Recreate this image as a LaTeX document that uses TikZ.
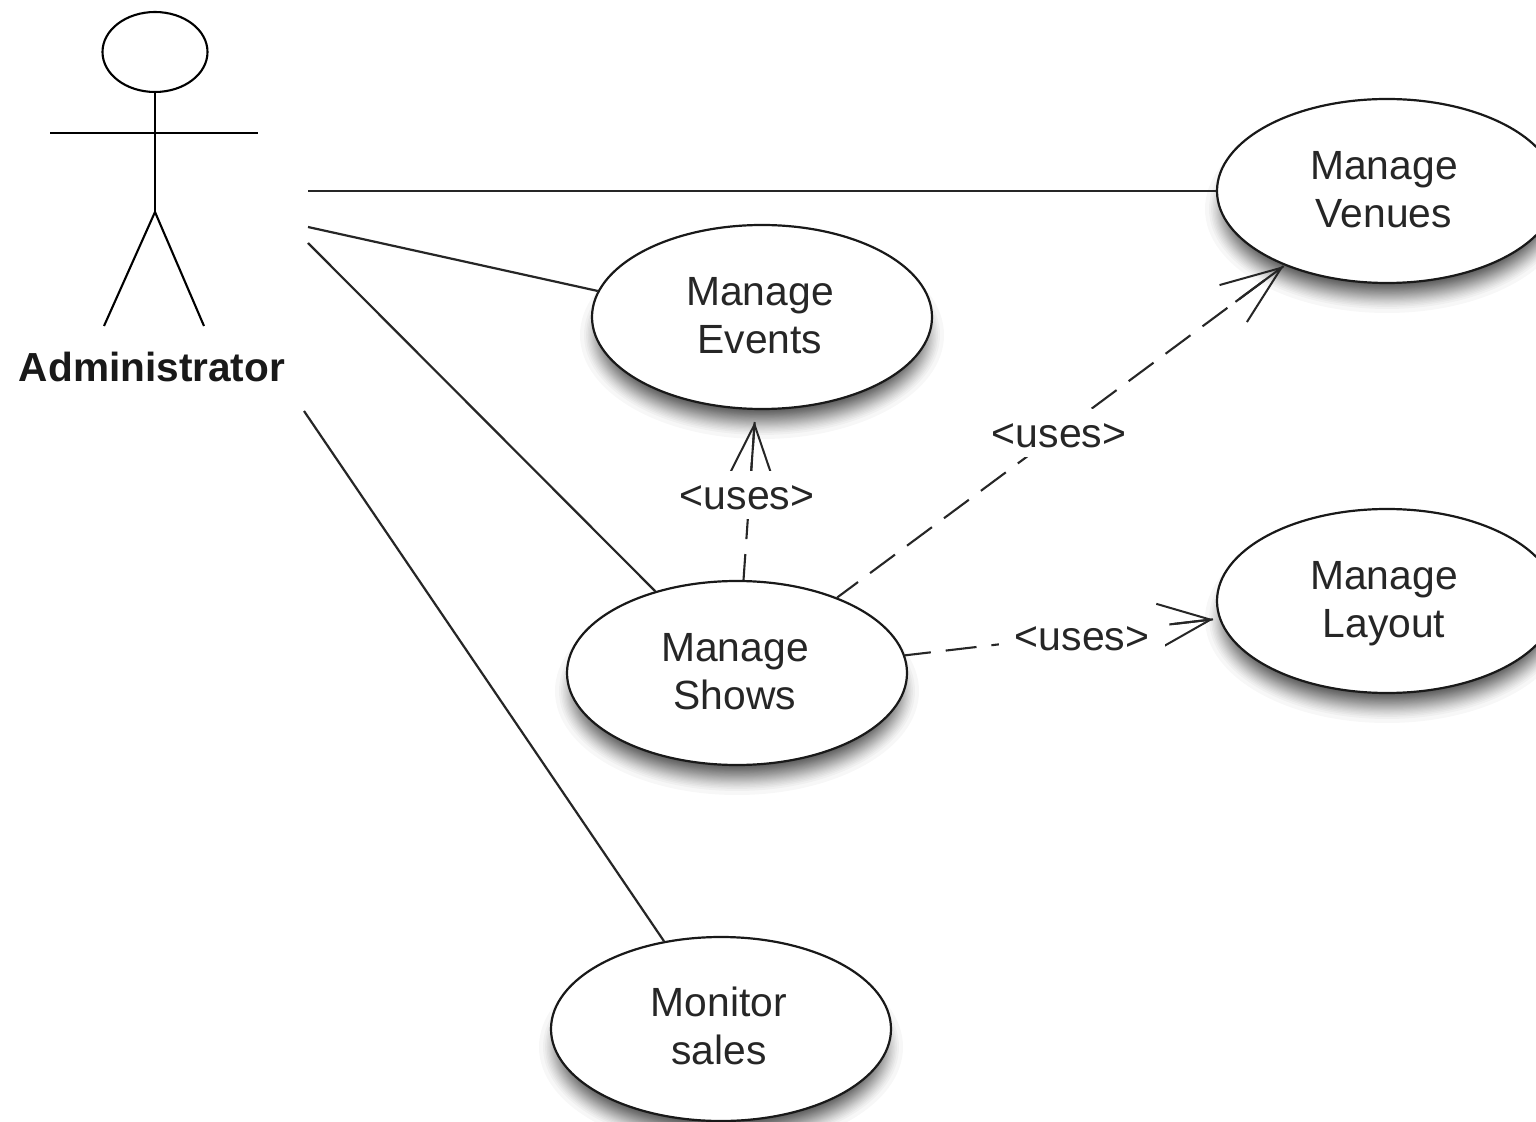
\documentclass[tikz,border=0pt]{standalone}
\usepackage{fontspec}
\setmainfont{Liberation Sans}
\usetikzlibrary{shapes.geometric,arrows.meta,calc}
\tikzset{
  x=0.5pt,y=-0.5pt,
  usecase/.style={ellipse,draw=black!90,line width=1.1pt,fill=white,inner sep=0pt,minimum width=170pt,minimum height=92pt},
  casetext/.style={inner sep=0pt,align=center,text=black!85,font=\fontsize{20.4}{23.8}\selectfont},
  line/.style={line width=1.1pt,draw=black!85},
  useslabel/.style={fill=white,inner xsep=8pt,inner ysep=0pt,text height=15pt,text depth=0pt,minimum height=24pt,text=black!85,font=\fontsize{20.5}{23.5}\selectfont},
  usesline/.style 2 args={line width=1.05pt,draw=black!85,dash pattern=on 15.5pt off 7.5pt,dash phase=2.5pt,-{Straight Barb[length=#1,width=#2,line width=1pt]}},
  usesstem/.style={line width=1.05pt,draw=black!85},
  actorline/.style={line width=1.05pt,draw=black},
}
\newcommand{\caseshadow}[2]{%
  \foreach \i in {0,...,29}{
    \pgfmathsetmacro{\d}{6-15*pow(\i/29,0.6)}
    \fill[black,opacity=0.03] (#1,#2+18) ellipse [x radius={85pt+\d*1pt},y radius={46pt+\d*1pt}];
  }}
\begin{document}
\begin{tikzpicture}
\useasboundingbox (0,0) rectangle (1536,1122);
\clip (0,0) rectangle (1536,1122);
\fill[white] (0,0) rectangle (1536,1122);
\caseshadow{1387}{191}
\caseshadow{762}{317}
\caseshadow{737}{673}
\caseshadow{1387}{601}
\caseshadow{721}{1029}
\node[usecase] (venues) at (1387,191) {};
\node[usecase] (events) at (762,317) {};
\node[usecase] (shows) at (737,673) {};
\node[usecase] (layout) at (1387,601) {};
\node[usecase] (sales) at (721,1029) {};
\node[casetext] (venuestext) at (1384,189.5) {Manage\\Venues};
\node[casetext] (eventstext) at (760,315.5) {Manage\\Events};
\node[casetext] (showstext) at (735,671.5) {Manage\\Shows};
\node[casetext] (layouttext) at (1384,603.5) {Manage\\Layout};
\node[casetext] (salestext) at (719,1026) {Monitor\\sales};
% actor
\node[ellipse,draw=black,line width=1.05pt,inner sep=0pt,minimum width=52.5pt,minimum height=40pt] (head) at (155,52) {};
\coordinate (hip) at (155,212);
\coordinate (armL) at (50,133);
\coordinate (armR) at (258,133);
\coordinate (footL) at (104,326);
\coordinate (footR) at (204,326);
\draw[actorline] (head.south) -- (hip);
\draw[actorline] (armL) -- (armR);
\draw[actorline] (footL) -- (hip) -- (footR);
\node[font=\fontsize{20.3}{23}\selectfont\bfseries,text=black!90,inner sep=0pt] (admin) at (152,367) {Administrator};
% associations
\coordinate (a1) at (308,191);
\coordinate (a2) at (308,227);
\coordinate (a3) at (308,243);
\coordinate (a4) at (304,411);
\draw[line] (a1) -- (venues.west);
\draw[line] (a2) -- (events.171);
\draw[line] (a3) -- (shows.135);
\draw[line] (a4) -- (sales.123);
% uses: tips stop short of the target ellipse, the last stretch of the shaft is solid
\coordinate (t1) at ($(events.266)!6pt!(shows.86)$);
\coordinate (t2) at ($(venues.216)!0.5pt!(shows.37)$);
\coordinate (t3) at ($(layout.186)!3pt!(shows.6)$);
\coordinate (s1) at ($(t1)!25pt!(shows.86)$);
\coordinate (s2) at ($(t2)!30pt!(shows.37)$);
\coordinate (s3) at ($(t3)!22pt!(shows.6)$);
\draw[usesline={25pt}{21pt}] (shows.86) -- (t1);
\draw[usesline={30pt}{23pt}] (shows.37) -- (t2);
\draw[usesline={26pt}{22pt}] (shows.6) -- (t3);
\draw[usesstem] (s1) -- (t1);
\draw[usesstem] (s2) -- (t2);
\draw[usesstem] (s3) -- (t3);
\node[useslabel] (u1) at (747,495) {<uses>};
\node[useslabel] (u2) at (1059,433) {<uses>};
\node[useslabel] (u3) at (1082,635) {<uses>};
\end{tikzpicture}
\end{document}
